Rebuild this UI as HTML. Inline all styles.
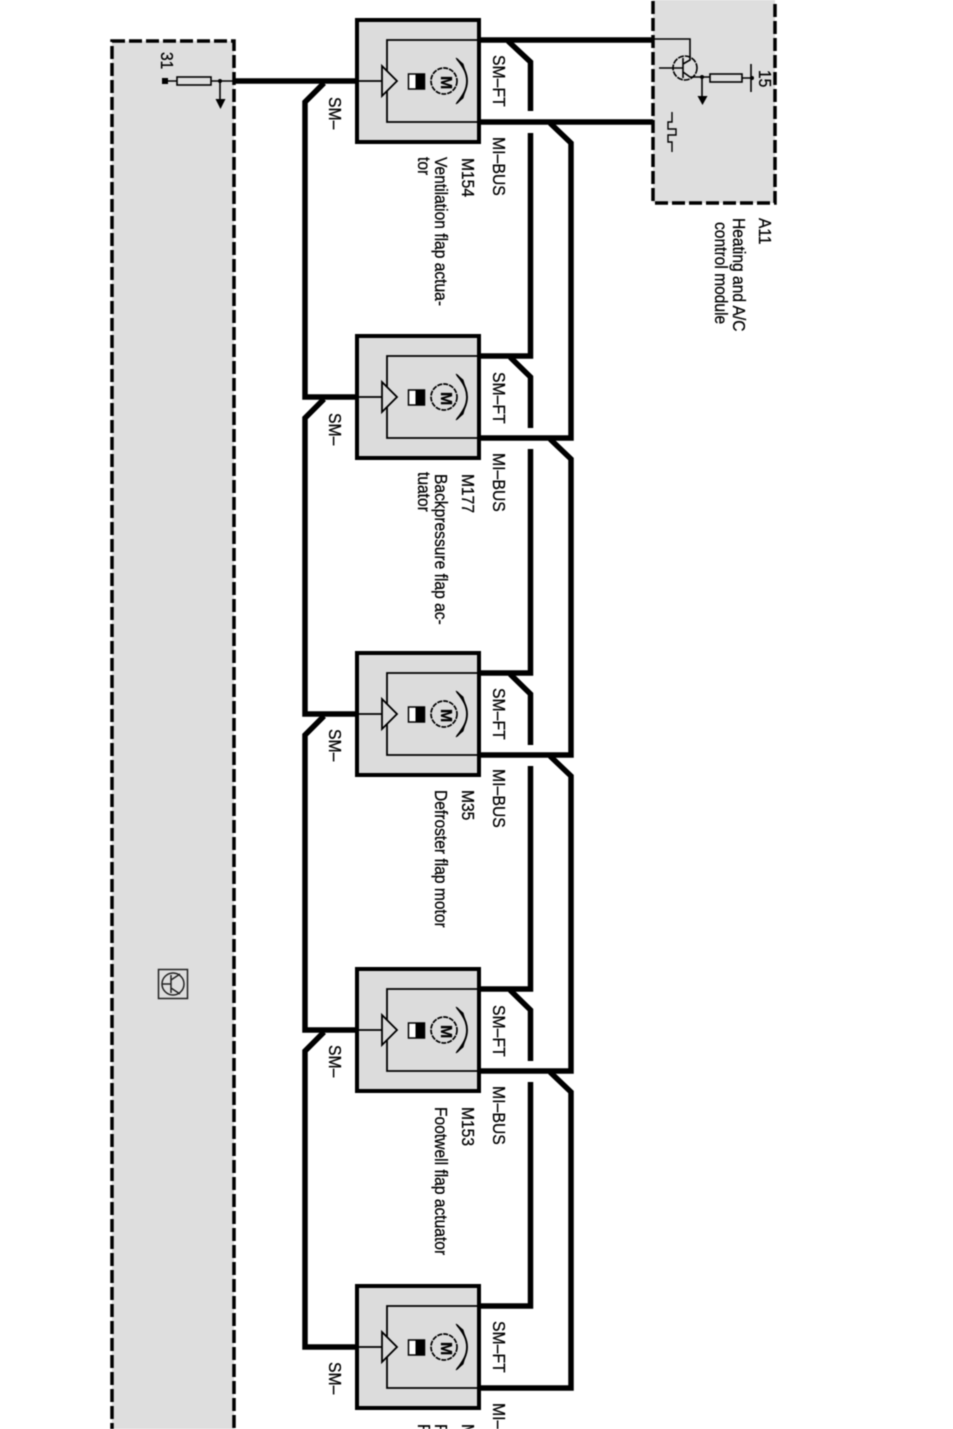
<!DOCTYPE html>
<html><head><meta charset="utf-8"><style>
html,body{margin:0;padding:0;background:#fff;width:953px;height:1429px;overflow:hidden}
svg{display:block;filter:blur(.6px)}
text{font-family:"Liberation Sans",sans-serif;font-size:15.800px;fill:#000;stroke:#000;stroke-width:.25px}
.d{font-size:15.600px}
</style></head><body>
<svg width="953" height="1429" viewBox="0 0 953 1429" xmlns="http://www.w3.org/2000/svg">
<defs>
<g id="mod">
<rect x="357" y="-61" width="122" height="122" fill="#dcdcdc" stroke="#000" stroke-width="4"/>
<path d="M479-41H387V41H479M357 0H382" fill="none" stroke="#000" stroke-width="1.800"/>
<path d="M382-15L397 0L382 15Z" fill="#dcdcdc" stroke="#000" stroke-width="1.800"/>
<rect x="408.500" y="-7" width="16" height="15" fill="#fff" stroke="#000" stroke-width="1.500"/>
<rect x="415.500" y="-7" width="9" height="15" fill="#000"/>
<circle cx="444" cy="0" r="13" fill="none" stroke="#000" stroke-width="1.700" stroke-dasharray="5 1"/>
<path d="M457-22Q477 0 457 22" fill="none" stroke="#000" stroke-width="1.800"/>
<path d="M456-23L463-17L466-7Q463-14 456-23ZM456 23L463 17L466 7Q463 14 456 23Z" fill="#000" stroke="#000"/>
</g>
</defs>
<rect x="112" y="41" width="122" height="1400" fill="#dedede" stroke="#000" stroke-width="3.500" stroke-dasharray="13 4"/>
<rect x="653" y="-10" width="122" height="213" fill="#dedede" stroke="#000" stroke-width="3.500" stroke-dasharray="13 4"/>
<g fill="none" stroke="#000" stroke-width="5.500">
<path d="M234 81H357"/>
<path d="M479 40H653M479 122H653"/>
<path d="M324 83L305 102V397H357"/>
<path d="M324 399L305 418V714H357"/>
<path d="M324 716L305 735V1030H357"/>
<path d="M324 1032L305 1051V1347H357"/>
<path d="M508 41L530.500 62V111M530.500 133V356H479"/>
<path d="M510 357L530.500 377V428M530.500 449V673H479"/>
<path d="M510 674L530.500 694V745M530.500 766V989H479"/>
<path d="M510 990L530.500 1010V1061M530.500 1082V1306H479"/>
<path d="M550 123L571 143V438H479"/>
<path d="M550 439L571 459V755H479"/>
<path d="M550 756L571 776V1071H479"/>
<path d="M550 1072L571 1092V1388H479"/>
</g>
<use href="#mod" transform="translate(0 81)"/>
<use href="#mod" transform="translate(0 397)"/>
<use href="#mod" transform="translate(0 714)"/>
<use href="#mod" transform="translate(0 1030)"/>
<use href="#mod" transform="translate(0 1347)"/>
<g style="font-size:9px;font-weight:bold">
<text transform="translate(441 76) rotate(90)">M</text>
<text transform="translate(441 392) rotate(90)">M</text>
<text transform="translate(441 709) rotate(90)">M</text>
<text transform="translate(441 1025) rotate(90)">M</text>
<text transform="translate(441 1342) rotate(90)">M</text>
</g>
<!-- left ground -->
<g fill="none" stroke="#000" stroke-width="1.600">
<path d="M165 81H177M211 81H234M220 81V100"/>
<rect x="177" y="77" width="34" height="8"/>
</g>
<path d="M215.500 99H225.500L220.500 109Z" fill="#000"/>
<circle cx="220" cy="81" r="2" fill="#000"/>
<rect x="162" y="78" width="6" height="6" fill="#000"/>
<!-- transistor A11 -->
<g fill="none" stroke="#000" stroke-width="1.600">
<circle cx="685" cy="68" r="12" stroke-dasharray="6 1"/>
<path d="M653 39H690V60L683 64M659 68H683M683 58V78M683 72L690 77H710M702 77V96"/>
<rect x="710" y="74" width="32" height="8"/>
<path d="M742 78H752M751 64V92"/>
<path d="M672 112V122H668V129H676V135H668V142H672V152" stroke-width="1.400"/>
</g>
<path d="M697.500 96H707.500L702.500 105Z" fill="#000"/>
<circle cx="702" cy="77" r="2" fill="#000"/>
<circle cx="752" cy="78" r="2" fill="#000"/>
<!-- icon -->
<g fill="none" stroke="#222" stroke-width="1.500">
<rect x="158.500" y="969.500" width="29" height="29"/>
<circle cx="173" cy="984" r="11"/>
<path d="M162 984H171M171 975V993M171 980L180 974M171 988L180 994"/>
</g>
<!-- labels -->
<text transform="translate(493 55) rotate(90) scale(1 1.120)">SM–FT</text>
<text transform="translate(493 137) rotate(90) scale(1 1.120)">MI–BUS</text>
<text transform="translate(329 97) rotate(90) scale(1 1.120)">SM–</text>
<text transform="translate(462 158) rotate(90) scale(1 1.120)" class="d">M154</text>
<text transform="translate(435 157) rotate(90) scale(1 1.120)" class="d">Ventilation flap actua-</text>
<text transform="translate(418 157) rotate(90) scale(1 1.120)" class="d">tor</text>

<text transform="translate(493 372) rotate(90) scale(1 1.120)">SM–FT</text>
<text transform="translate(493 453) rotate(90) scale(1 1.120)">MI–BUS</text>
<text transform="translate(329 413) rotate(90) scale(1 1.120)">SM–</text>
<text transform="translate(462 474) rotate(90) scale(1 1.120)" class="d">M177</text>
<text transform="translate(435 474) rotate(90) scale(1 1.120)" class="d">Backpressure flap ac-</text>
<text transform="translate(418 472) rotate(90) scale(1 1.120)" class="d">tuator</text>

<text transform="translate(493 688) rotate(90) scale(1 1.120)">SM–FT</text>
<text transform="translate(493 769) rotate(90) scale(1 1.120)">MI–BUS</text>
<text transform="translate(329 729) rotate(90) scale(1 1.120)">SM–</text>
<text transform="translate(462 790) rotate(90) scale(1 1.120)" class="d">M35</text>
<text transform="translate(435 790) rotate(90) scale(1 1.120)" class="d">Defroster flap motor</text>

<text transform="translate(493 1005) rotate(90) scale(1 1.120)">SM–FT</text>
<text transform="translate(493 1086) rotate(90) scale(1 1.120)">MI–BUS</text>
<text transform="translate(329 1045) rotate(90) scale(1 1.120)">SM–</text>
<text transform="translate(462 1107) rotate(90) scale(1 1.120)" class="d">M153</text>
<text transform="translate(435 1107) rotate(90) scale(1 1.120)" class="d">Footwell flap actuator</text>

<text transform="translate(493 1321) rotate(90) scale(1 1.120)">SM–FT</text>
<text transform="translate(493 1403) rotate(90) scale(1 1.120)">MI–BUS</text>
<text transform="translate(329 1362) rotate(90) scale(1 1.120)">SM–</text>
<text transform="translate(462 1424) rotate(90) scale(1 1.120)" class="d">M</text>
<text transform="translate(435 1424) rotate(90) scale(1 1.120)" class="d">F</text>
<text transform="translate(418 1424) rotate(90) scale(1 1.120)" class="d">F</text>

<text transform="translate(161 52) rotate(90) scale(1 1.120)" class="d">31</text>
<text transform="translate(759 70) rotate(90) scale(1 1.120)" class="d">15</text>
<text transform="translate(759 218) rotate(90) scale(1 1.120)" class="d">A11</text>
<text transform="translate(733 218) rotate(90) scale(1 1.120)" class="d">Heating and A/C</text>
<text transform="translate(715 222) rotate(90) scale(1 1.120)" class="d">control module</text>
</svg>
</body></html>
